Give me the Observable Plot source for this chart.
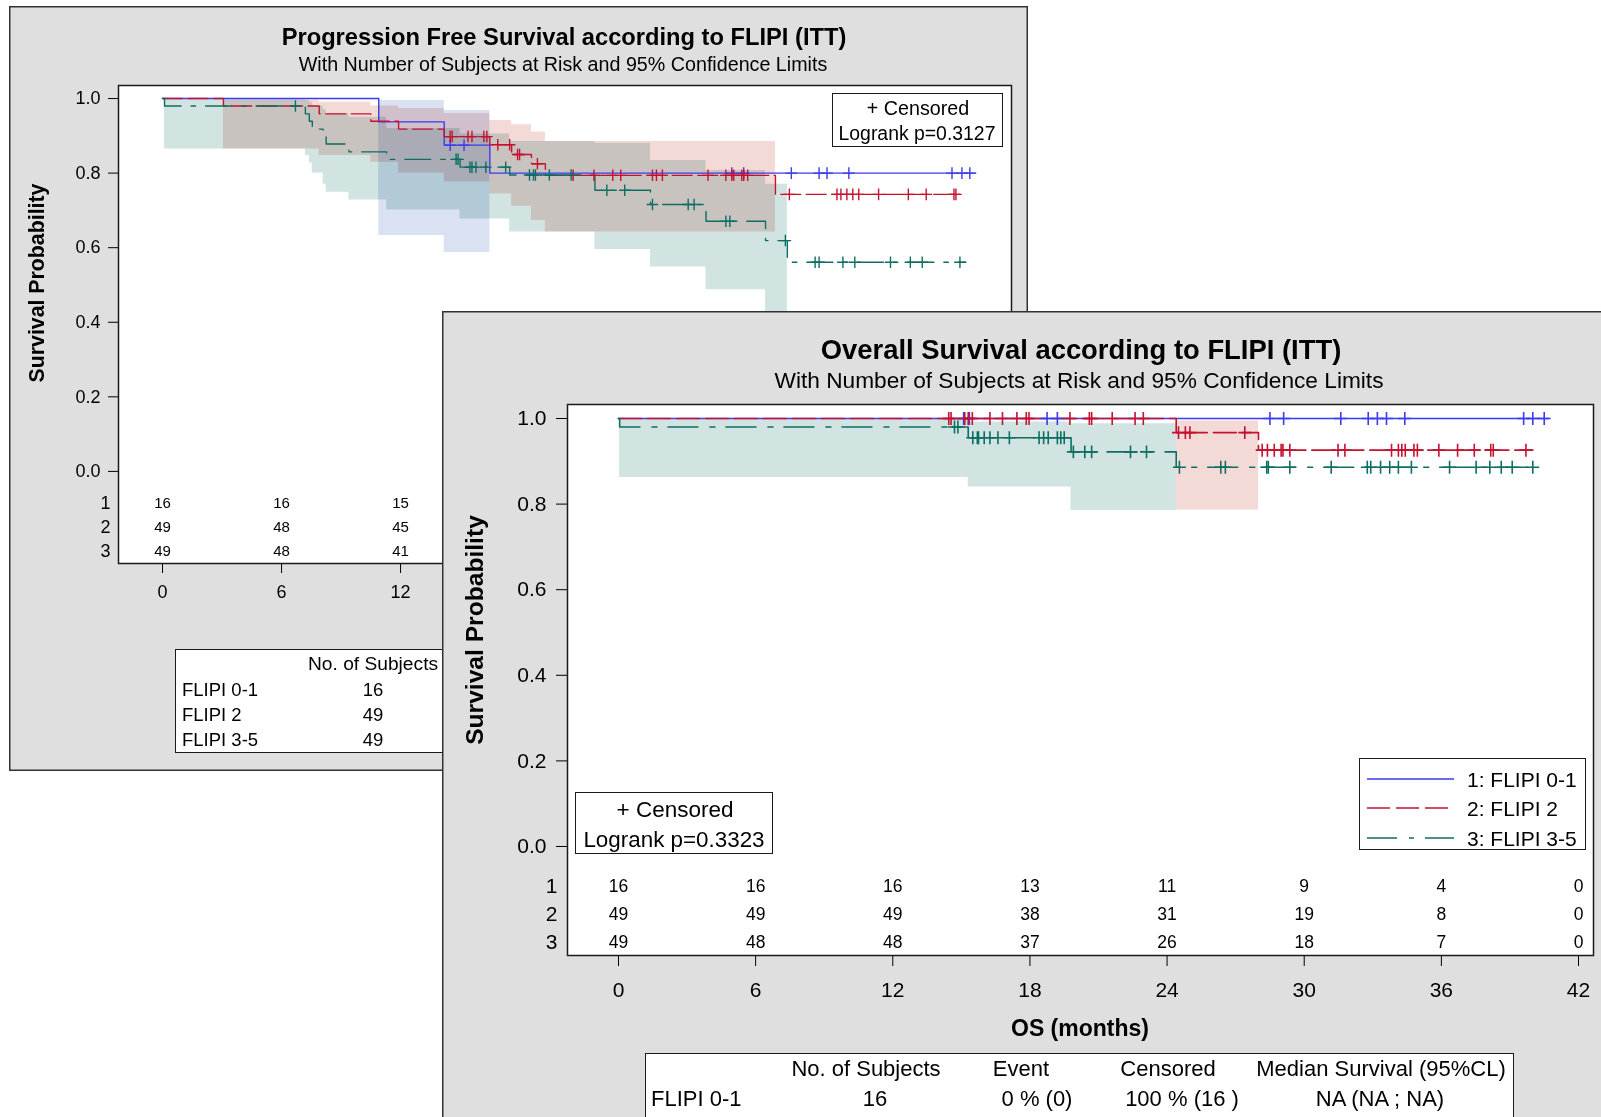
<!DOCTYPE html>
<html><head><meta charset="utf-8">
<script src="https://cdn.jsdelivr.net/npm/d3@7"></script>
<script src="https://cdn.jsdelivr.net/npm/@observablehq/plot@0.6"></script>
<style>
html,body{margin:0;padding:0;background:#fff;overflow:hidden;}
#root{position:relative;width:1601px;height:1117px;overflow:hidden;font-family:"Liberation Sans",Arial,sans-serif;color:#000;}
.panel{position:absolute;background:#dfdfdf;box-shadow:inset 0 0 0 1.5px #333;overflow:hidden;}
.box{position:absolute;background:#fff;border:1.5px solid #1a1a1a;box-sizing:border-box;}
.lbl{position:absolute;white-space:nowrap;line-height:1;}
</style></head>
<body><div id="root"></div>
<script>
// ---------- shared ----------
const xTicks = [0, 6, 12, 18, 24, 30, 36, 42];
const pfsVisibleTicks = [0, 6, 12];   // the rest of the PFS axis is hidden behind the OS panel
const yTicks = [0, 0.2, 0.4, 0.6, 0.8, 1.0];
const groupNames = ["FLIPI 0-1", "FLIPI 2", "FLIPI 3-5"];
const legendNames = ["1: FLIPI 0-1", "2: FLIPI 2", "3: FLIPI 3-5"];

// ---------- PFS (back panel) ----------
const pfsBlueT = [0, 10.9, 14.2, 16.5, 41.0];
const pfsBlueS = [1, 0.9375, 0.875, 0.80, 0.80];
const pfsBlueCens = [14.5, 15.2, 28.7, 29.3, 31.7, 33.1, 33.5, 34.6, 39.8, 40.3, 40.7];
const pfsBlueBandT = [10.9, 14.2, 16.5];
const pfsBlueBandLo = [0.633, 0.587, 0.587];
const pfsBlueBandHi = [0.995, 0.968, 0.968];

const pfsRedT = [0, 3.07, 7.9, 10.5, 11.9, 14.2, 16.5, 17.6, 18.6, 19.3, 30.9, 40.2];
const pfsRedS = [1, 0.980, 0.959, 0.939, 0.918, 0.898, 0.876, 0.850, 0.825, 0.794, 0.743, 0.743];
const pfsRedCens = [14.5, 14.6, 15.4, 15.6, 16.2, 16.35, 16.9, 17.5, 17.9, 18.0, 18.9, 20.7, 21.75, 22.7, 23.1, 24.7, 24.9, 25.2, 27.5, 28.4, 28.7, 28.8, 29.2, 29.3, 29.5, 31.6, 34.0, 34.2, 34.5, 34.8, 35.1, 36.1, 37.6, 38.5, 39.9, 40.0];
const pfsRedBandT = [3.07, 7.9, 10.5, 11.9, 14.2, 16.5, 17.6, 18.6, 19.3, 30.9];
const pfsRedBandLo = [0.865, 0.847, 0.829, 0.80, 0.776, 0.744, 0.711, 0.673, 0.642, 0.642];
const pfsRedBandHi = [0.996, 0.99, 0.98, 0.973, 0.96, 0.941, 0.93, 0.91, 0.885, 0.885];

const pfsTealT = [0, 0.1, 7.2, 7.4, 7.55, 8.1, 8.25, 9.4, 11.3, 15.0, 17.5, 21.8, 24.6, 27.4, 30.4, 31.5, 40.5];
const pfsTealS = [1, 0.980, 0.959, 0.939, 0.918, 0.898, 0.878, 0.857, 0.837, 0.816, 0.795, 0.754, 0.716, 0.671, 0.619, 0.561, 0.561];
const pfsTealCens = [6.7, 14.8, 14.9, 15.5, 15.6, 15.8, 16.3, 17.3, 18.5, 18.7, 18.8, 19.5, 20.6, 22.4, 23.3, 24.7, 26.5, 26.8, 28.4, 28.6, 31.4, 32.9, 33.1, 34.3, 34.9, 36.7, 37.7, 38.3, 40.2];
const pfsTealBandT = [0.1, 7.2, 7.4, 7.55, 8.1, 8.25, 9.4, 11.3, 15.0, 17.5, 21.8, 24.6, 27.4, 30.4, 31.5];
const pfsTealBandLo = [0.865, 0.847, 0.827, 0.80, 0.77, 0.749, 0.728, 0.701, 0.677, 0.642, 0.595, 0.548, 0.487, 0.38, 0.38];
const pfsTealBandHi = [0.997, 0.995, 0.99, 0.98, 0.97, 0.96, 0.95, 0.92, 0.905, 0.885, 0.88, 0.834, 0.807, 0.77, 0.77];

const pfsRiskT = [0, 6, 12];
const pfsRisk1 = [16, 16, 15];
const pfsRisk2 = [49, 48, 45];
const pfsRisk3 = [49, 48, 41];
const pfsSubjects = [16, 49, 49];

// ---------- OS (front panel) ----------
const osBlueT = [0, 40.7];
const osBlueS = [1, 1];
const osBlueCens = [15.1, 15.35, 18.75, 19.2, 28.5, 29.1, 31.6, 32.8, 33.2, 33.6, 34.4, 39.6, 40.0, 40.5];

const osRedT = [0, 24.4, 28.0, 40.0];
const osRedS = [1, 0.967, 0.926, 0.926];
const osRedCens = [14.45, 14.55, 15.15, 15.3, 15.48, 16.25, 16.8, 17.43, 17.84, 17.96, 19.75, 20.6, 20.7, 21.6, 22.6, 22.96, 24.5, 24.8, 25.0, 27.4, 28.16, 28.39, 28.69, 28.99, 29.07, 29.37, 31.48, 31.78, 33.82, 34.12, 34.27, 34.42, 34.80, 34.95, 35.89, 36.71, 37.44, 38.16, 38.27, 39.70];
const osRedBandT = [24.4, 28.0];
const osRedBandLo = [0.786, 0.786];
const osRedBandHi = [0.994, 0.994];

const osTealT = [0, 0.05, 15.3, 19.8, 24.4, 40.2];
const osTealS = [1, 0.980, 0.955, 0.922, 0.886, 0.886];
const osTealCens = [14.7, 14.85, 15.5, 15.7, 15.75, 16.0, 16.25, 16.6, 17.1, 18.4, 18.6, 18.8, 19.2, 19.35, 19.5, 19.9, 20.4, 20.7, 22.4, 23.1, 24.54, 26.35, 26.55, 28.36, 28.43, 29.37, 31.18, 32.76, 32.91, 33.34, 33.74, 34.12, 34.69, 36.36, 37.52, 38.12, 38.62, 39.10, 40.0];
const osTealBandT = [0.05, 15.3, 19.8, 24.4];
const osTealBandLo = [0.862, 0.84, 0.785, 0.785];
const osTealBandHi = [0.997, 0.992, 0.988, 0.988];

const osRiskT = [0, 6, 12, 18, 24, 30, 36, 42];
const osRisk1 = [16, 16, 16, 13, 11, 9, 4, 0];
const osRisk2 = [49, 49, 49, 38, 31, 19, 8, 0];
const osRisk3 = [49, 48, 48, 37, 26, 18, 7, 0];
const osTableHead = ["No. of Subjects", "Event", "Censored", "Median Survival (95%CL)"];
const osTableRow1 = ["16", "0 % (0)", "100 % (16 )", "NA (NA ; NA)"];

// ---------- styling ----------
const COL = ["#3b3bef", "#c41230", "#0e6e63"];
const BAND = ["#dae1f2", "#f4dad7", "#d1e4e2"];
const FONT = "Liberation Sans, Arial, sans-serif";

// ---------- helpers ----------
const steps = (T, S) => T.map((t, i) => ({t, s: S[i]}));
const band = (T, L, H) => T.map((t, i) => ({t, lo: L[i], hi: H[i]}));
function survAt(T, S, t) { let v = S[0]; for (let i = 0; i < T.length; i++) { if (T[i] <= t) v = S[i]; else break; } return v; }
const cens = (T, S, C) => C.map(t => ({t, s: survAt(T, S, t)}));
function riskRows(T, rows, ypos) {
  const out = [];
  rows.forEach((r, k) => r.forEach((n, i) => out.push({t: T[i], y: ypos[k], n})));
  return out;
}

const root = document.getElementById("root");
function panel(x, y, w, h) {
  const d = document.createElement("div");
  d.className = "panel";
  Object.assign(d.style, {left: x + "px", top: y + "px", width: w + "px", height: h + "px"});
  root.appendChild(d);
  return {el: d, ox: x, oy: y};
}
function label(P, str, x, y, o = {}) {
  const d = document.createElement("div");
  d.className = "lbl";
  d.textContent = str;
  d.style.left = (x - P.ox) + "px";
  d.style.top = (y - P.oy) + "px";
  d.style.fontSize = (o.size || 18) + "px";
  d.style.fontWeight = o.weight || "normal";
  const tx = o.anchor === "start" ? "0" : o.anchor === "end" ? "-100%" : "-50%";
  d.style.transform = `translate(${tx},-50%)` + (o.rotate ? ` rotate(${o.rotate}deg)` : "");
  P.el.appendChild(d);
  return d;
}
function box(P, x1, y1, x2, y2) {
  const d = document.createElement("div");
  d.className = "box";
  Object.assign(d.style, {left: (x1 - P.ox) + "px", top: (y1 - P.oy) + "px", width: (x2 - x1) + "px", height: (y2 - y1) + "px"});
  P.el.appendChild(d);
  return d;
}

function kmPlot(cfg) {
  const marks = [Plot.frame({fill: "white"})];
  cfg.bands.forEach((b, i) => {
    if (b) marks.push(Plot.areaY(b, {x: "t", y1: "lo", y2: "hi", curve: "step-after", fill: BAND[i], mixBlendMode: "multiply"}));
  });
  cfg.curves.forEach((c, i) => {
    marks.push(Plot.line(c, {x: "t", y: "s", curve: "step-after", stroke: COL[i], strokeWidth: cfg.lw, strokeDasharray: cfg.dash[i] || undefined}));
  });
  cfg.cens.forEach((c, i) => {
    marks.push(Plot.dot(c, {x: "t", y: "s", symbol: "plus", r: cfg.plusR, stroke: COL[i], strokeWidth: cfg.lw}));
  });
  marks.push(Plot.text(cfg.risk, {x: "t", y: "y", text: "n", fontSize: cfg.riskSize, fill: "#000"}));
  marks.push(Plot.text(["1", "2", "3"], {x: () => cfg.xDomain[0], y: (d, i) => cfg.riskY[i], text: d => d, textAnchor: "end", dx: cfg.rowDx, fontSize: cfg.rowSize, fill: "#000"}));
  marks.push(Plot.frame({stroke: "#1a1a1a", strokeWidth: 1.5}));
  const svg = Plot.plot({
    width: cfg.w, height: cfg.h,
    marginLeft: cfg.ml, marginRight: cfg.mr, marginTop: cfg.mt, marginBottom: cfg.mb,
    style: {background: "transparent", fontFamily: FONT, fontSize: cfg.tickSize + "px", color: "#000", overflow: "visible", maxWidth: "none"},
    x: {domain: cfg.xDomain, ticks: cfg.xTicks, tickSize: cfg.tk, tickPadding: cfg.xpad, label: null},
    y: {domain: cfg.yDomain, ticks: yTicks, tickFormat: d3.format(".1f"), tickSize: cfg.tk, tickPadding: cfg.ypad, label: null},
    marks
  });
  svg.style.position = "absolute";
  svg.style.left = "0px";
  svg.style.top = "0px";
  return svg;
}

// ================= Panel 1: PFS =================
const P1 = panel(9, 6, 1019, 765);
const pfsRiskY = [-0.085, -0.149, -0.214];
P1.el.appendChild(kmPlot({
  w: 1019, h: 765, ml: 109, mr: 17, mt: 79, mb: 208,
  xDomain: [-2.22, 42.8], yDomain: [-0.247, 1.035], xTicks: pfsVisibleTicks,
  tk: 10, xpad: 12, ypad: 8, tickSize: 18,
  lw: 1.4, plusR: 3.8, dash: [null, "20,5.5", "26,10,4.5,10"],
  bands: [band(pfsBlueBandT, pfsBlueBandLo, pfsBlueBandHi), band(pfsRedBandT, pfsRedBandLo, pfsRedBandHi), band(pfsTealBandT, pfsTealBandLo, pfsTealBandHi)],
  curves: [steps(pfsBlueT, pfsBlueS), steps(pfsRedT, pfsRedS), steps(pfsTealT, pfsTealS)],
  cens: [cens(pfsBlueT, pfsBlueS, pfsBlueCens), cens(pfsRedT, pfsRedS, pfsRedCens), cens(pfsTealT, pfsTealS, pfsTealCens)],
  risk: riskRows(pfsRiskT, [pfsRisk1, pfsRisk2, pfsRisk3], pfsRiskY), riskY: pfsRiskY,
  riskSize: 15, rowSize: 18, rowDx: -8
}));
label(P1, "Progression Free Survival according to FLIPI (ITT)", 564, 38, {size: 23.7, weight: "bold"});
label(P1, "With Number of Subjects at Risk and 95% Confidence Limits", 563, 65, {size: 19.7});
label(P1, "Survival Probability", 38, 283, {size: 21.3, weight: "bold", rotate: -90});
box(P1, 832, 93, 1003, 147);
label(P1, "+ Censored", 918, 108.5, {size: 19.7});
label(P1, "Logrank p=0.3127", 917, 133.5, {size: 19.4});
box(P1, 175, 649, 900, 753);
label(P1, "No. of Subjects", 373, 664, {size: 19.2});
[690, 715, 740].forEach((y, i) => {
  label(P1, groupNames[i], 182, y, {size: 18.5, anchor: "start"});
  label(P1, String(pfsSubjects[i]), 373, y, {size: 18.5});
});

// ================= Panel 2: OS =================
const P2 = panel(442, 311, 1170, 820);
const osRiskY = [-0.093, -0.158, -0.223];
P2.el.appendChild(kmPlot({
  w: 1159, h: 806, ml: 125, mr: 8, mt: 93, mb: 162,
  xDomain: [-2.231, 42.656], yDomain: [-0.2547, 1.0327], xTicks: xTicks,
  tk: 11, xpad: 16, ypad: 10, tickSize: 21,
  lw: 1.6, plusR: 4.25, dash: [null, "23,6", "30,12,5,11"],
  bands: [null, band(osRedBandT, osRedBandLo, osRedBandHi), band(osTealBandT, osTealBandLo, osTealBandHi)],
  curves: [steps(osBlueT, osBlueS), steps(osRedT, osRedS), steps(osTealT, osTealS)],
  cens: [cens(osBlueT, osBlueS, osBlueCens), cens(osRedT, osRedS, osRedCens), cens(osTealT, osTealS, osTealCens)],
  risk: riskRows(osRiskT, [osRisk1, osRisk2, osRisk3], osRiskY), riskY: osRiskY,
  riskSize: 17.5, rowSize: 21, rowDx: -10
}));
label(P2, "Overall Survival according to FLIPI (ITT)", 1081, 349.5, {size: 27.4, weight: "bold"});
label(P2, "With Number of Subjects at Risk and 95% Confidence Limits", 1079, 380, {size: 22.7});
label(P2, "Survival Probability", 475, 630, {size: 24.6, weight: "bold", rotate: -90});
label(P2, "OS (months)", 1080, 1028, {size: 23, weight: "bold"});
box(P2, 575, 792, 773, 854);
label(P2, "+ Censored", 675, 810, {size: 22.5});
label(P2, "Logrank p=0.3323", 674, 839.5, {size: 22.4});

// legend
box(P2, 1359, 758, 1586, 850);
const legSvgNS = "http://www.w3.org/2000/svg";
const legSvg = document.createElementNS(legSvgNS, "svg");
legSvg.setAttribute("width", 100); legSvg.setAttribute("height", 100);
Object.assign(legSvg.style, {position: "absolute", left: (1367 - P2.ox) + "px", top: (760 - P2.oy) + "px", overflow: "visible"});
const legDash = [null, "23,6", "30,12,5,11"];
[779, 808, 838].forEach((y, i) => {
  const ln = document.createElementNS(legSvgNS, "line");
  ln.setAttribute("x1", 0); ln.setAttribute("x2", 87);
  ln.setAttribute("y1", y - 760); ln.setAttribute("y2", y - 760);
  ln.setAttribute("stroke", COL[i]); ln.setAttribute("stroke-width", 1.6);
  if (legDash[i]) ln.setAttribute("stroke-dasharray", legDash[i]);
  legSvg.appendChild(ln);
  label(P2, legendNames[i], 1467, y, {size: 21, anchor: "start"});
});
P2.el.appendChild(legSvg);

// summary table
box(P2, 645, 1053, 1514, 1200);
const osColX = [866, 1021, 1168, 1381];
const osValX = [875, 1037, 1182, 1380];
osTableHead.forEach((h, i) => label(P2, h, osColX[i], 1069, {size: 22}));
label(P2, groupNames[0], 651, 1099, {size: 22, anchor: "start"});
osTableRow1.forEach((v, i) => label(P2, v, osValX[i], 1099, {size: 22}));
</script>
</body></html>
